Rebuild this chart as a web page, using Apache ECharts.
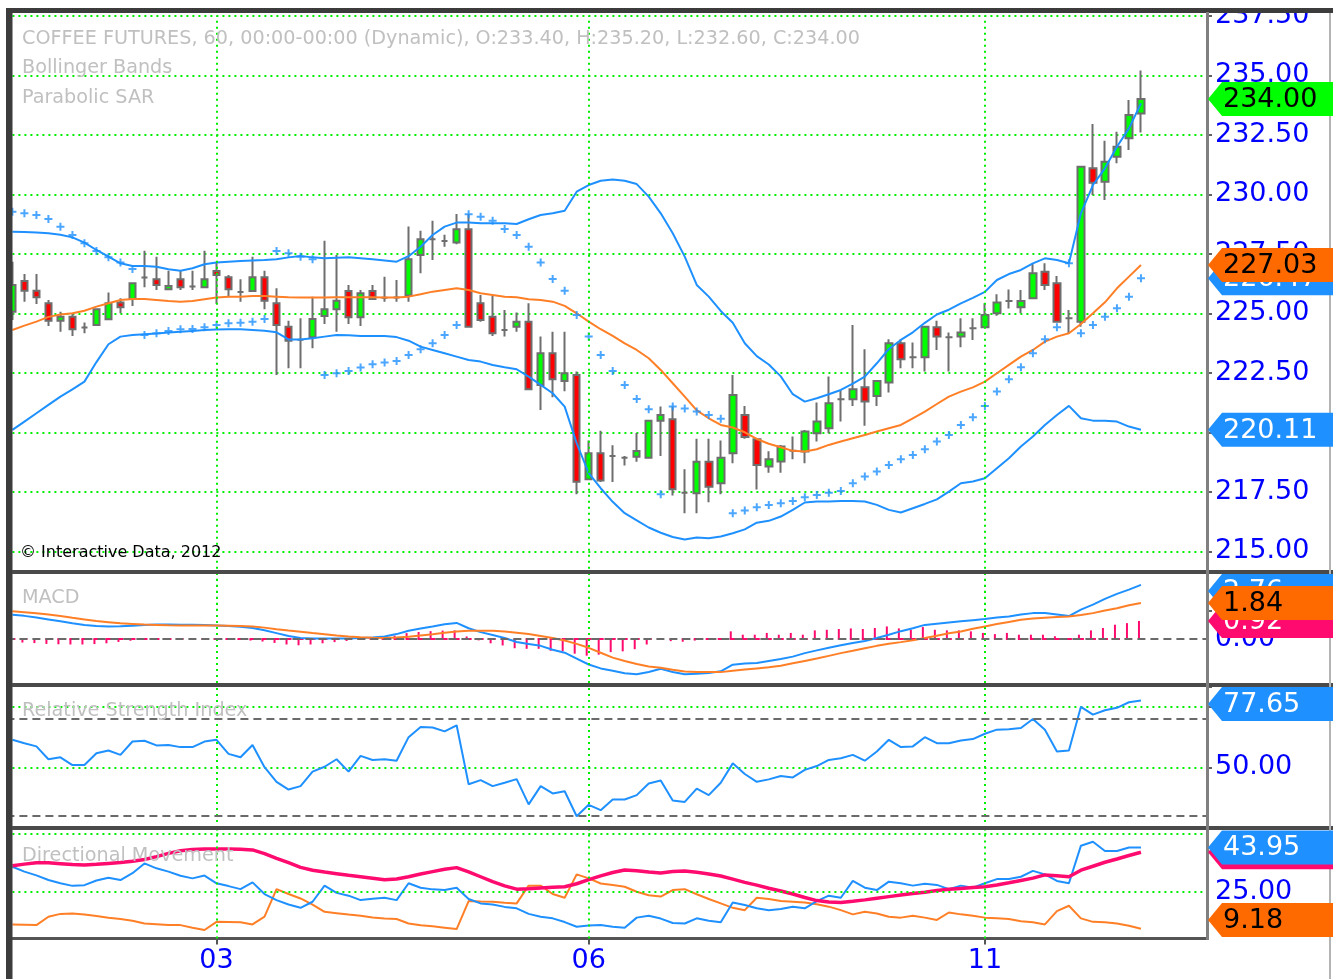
<!DOCTYPE html>
<html><head><meta charset="utf-8">
<script src="https://cdn.jsdelivr.net/npm/echarts@6/dist/echarts.min.js"></script>
<style>html,body{margin:0;padding:0;background:#fff}#c{width:1333px;height:979px}</style>
</head><body><div id="c"></div>
<script>
// ---------- DATA ----------
const barCount = 100; // slots on the time axis (95 bars + empty space on the right)
const categories = Array.from({length: barCount}, (_, i) => String(i));
const xTickIdx = [17, 48, 81];
const xTickLabels = ['03', '06', '11'];

const opens = [225.07,226.36,225.95,225.42,224.69,224.86,224.40,224.51,224.75,225.45,
225.60,226.50,226.43,226.01,226.43,226.13,226.09,226.78,226.51,225.90,
225.94,226.51,225.42,224.44,223.89,223.99,224.89,225.17,225.94,224.83,
225.94,225.65,225.66,225.75,227.45,228.11,228.04,227.97,228.53,225.42,
224.86,224.30,224.44,224.65,221.99,223.32,222.16,222.41,218.03,219.12,
219.00,218.93,218.97,218.93,220.49,220.55,217.46,217.44,218.76,217.86,
219.12,220.73,219.71,218.56,218.77,219.22,219.19,219.96,220.17,221.39,
221.39,221.89,221.53,222.09,223.74,223.15,223.15,224.41,223.99,224.02,
224.37,224.41,225.00,225.52,225.25,225.63,226.75,226.26,224.79,224.65,
231.09,230.53,231.58,232.35,233.40];
const closes = [226.19,225.95,225.67,224.69,224.86,224.33,224.40,225.17,225.42,225.25,
226.26,226.50,226.19,226.15,226.09,226.13,226.43,226.61,226.01,225.90,
226.51,225.53,224.51,223.85,223.89,224.76,225.17,225.53,224.83,225.84,
225.60,225.65,225.66,227.27,228.11,228.11,228.04,228.53,224.44,224.72,
224.16,224.30,224.65,221.81,223.32,222.23,222.48,217.92,219.12,217.97,
219.00,218.93,219.21,220.49,220.73,217.61,217.46,218.76,217.71,218.93,
221.57,219.80,218.63,218.87,219.40,219.22,220.03,220.45,221.22,221.39,
221.81,221.29,222.16,223.74,223.07,223.15,224.44,224.02,223.99,224.19,
224.37,224.93,225.45,225.52,225.52,226.68,226.19,224.65,224.79,231.16,
230.49,231.37,232.00,233.33,234.00];
const lows = [224.72,225.49,225.39,224.47,224.23,224.05,224.16,224.47,224.75,225.00,
225.31,226.09,225.98,225.98,225.98,225.98,226.09,225.39,225.67,225.49,
225.94,225.17,222.41,222.69,222.69,223.53,224.55,224.23,224.55,224.47,
225.56,225.49,225.49,225.49,226.68,227.24,227.80,227.90,224.44,224.65,
224.05,224.02,224.23,221.81,220.94,221.47,221.72,217.40,218.03,217.91,
217.91,218.60,218.76,218.93,219.00,217.34,216.60,216.60,217.06,217.40,
218.70,219.73,217.60,218.30,218.30,218.87,218.70,219.61,219.96,220.45,
221.11,220.27,221.11,221.67,222.69,222.69,222.55,223.46,222.55,223.57,
223.88,224.41,224.90,225.20,225.00,225.63,225.98,224.65,224.16,224.44,
229.97,229.76,231.30,231.86,232.60];
const highs = [227.17,226.65,226.65,225.56,225.07,225.00,224.61,225.17,225.87,225.63,
226.26,227.63,227.38,226.79,226.79,226.79,227.63,227.17,226.61,226.43,
227.38,226.79,226.05,224.69,224.79,225.70,228.05,227.45,226.19,225.98,
226.19,226.54,226.40,228.65,228.47,228.89,228.30,229.17,229.17,225.77,
225.77,225.14,225.03,225.42,224.02,224.23,224.23,222.55,219.66,220.07,
219.46,219.00,219.97,220.49,221.08,221.08,218.45,219.73,219.73,219.66,
222.41,221.10,219.71,219.20,219.47,219.82,220.10,221.25,222.34,221.78,
224.51,223.49,222.20,223.91,223.91,223.77,224.44,224.69,224.19,224.79,
224.79,225.42,225.80,226.00,225.98,227.10,227.10,226.57,225.14,231.16,
232.95,232.25,232.63,233.96,235.20];

const bbUpper = [228.43,228.42,228.40,228.36,228.30,228.19,227.97,227.66,227.38,227.10,
226.99,226.99,226.96,226.85,226.79,226.89,227.06,227.13,227.17,227.20,
227.22,227.24,227.27,227.35,227.41,227.35,227.31,227.33,227.35,227.31,
227.27,227.22,227.17,227.40,227.80,228.29,228.64,228.81,228.81,228.78,
228.78,228.78,228.75,228.95,229.13,229.20,229.31,230.11,230.39,230.57,
230.62,230.57,230.43,229.90,229.20,228.36,227.38,226.19,225.70,225.10,
224.60,223.74,223.20,222.85,222.35,221.60,221.29,221.43,221.60,221.78,
222.05,222.34,222.90,223.50,223.88,224.20,224.60,224.95,225.15,225.42,
225.65,225.90,226.40,226.65,226.82,227.10,227.31,227.24,227.10,229.20,
230.39,231.09,232.00,232.77,233.82];
const bbMiddle = [224.30,224.48,224.65,224.85,224.95,225.00,225.11,225.28,225.42,225.56,
225.60,225.60,225.56,225.52,225.49,225.52,225.59,225.66,225.70,225.70,
225.73,225.73,225.70,225.67,225.66,225.66,225.66,225.67,225.67,225.67,
225.67,225.66,225.66,225.70,225.80,225.91,225.98,226.05,225.98,225.84,
225.77,225.70,225.67,225.59,225.56,225.49,225.31,225.00,224.65,224.33,
224.05,223.74,223.46,223.11,222.62,222.06,221.50,220.92,220.59,220.31,
220.20,220.00,219.72,219.52,219.37,219.22,219.19,219.29,219.47,219.61,
219.75,219.89,220.03,220.17,220.31,220.59,220.87,221.19,221.50,221.71,
221.89,222.13,222.48,222.83,223.18,223.46,223.81,224.02,224.16,224.55,
225.00,225.46,226.05,226.54,227.03];
const bbLower = [220.10,220.45,220.80,221.15,221.50,221.80,222.13,222.95,223.70,224.02,
224.09,224.12,224.15,224.19,224.22,224.26,224.30,224.32,224.33,224.33,
224.30,224.27,224.20,223.90,223.90,223.95,224.02,224.09,224.08,224.05,
224.05,224.05,224.00,223.85,223.60,223.46,223.32,223.18,223.04,222.97,
222.83,222.73,222.65,222.34,221.99,221.64,221.08,219.54,218.28,217.65,
217.08,216.60,216.30,216.00,215.78,215.60,215.50,215.58,215.55,215.62,
215.76,215.92,216.20,216.28,216.46,216.74,217.05,217.09,217.09,217.11,
217.11,217.09,216.95,216.74,216.63,216.81,216.99,217.18,217.51,217.86,
217.93,218.07,218.49,218.91,219.40,219.82,220.31,220.73,221.11,220.59,
220.49,220.49,220.45,220.24,220.11];
const sar = [229.27,229.20,229.13,228.96,228.64,228.29,227.94,227.62,227.35,227.13,
226.86,224.09,224.16,224.26,224.33,224.34,224.41,224.51,224.58,224.60,
224.65,224.76,227.62,227.52,227.38,227.27,222.41,222.48,222.58,222.72,
222.86,222.93,223.00,223.25,223.49,223.74,224.09,224.51,229.16,229.06,
228.89,228.54,228.29,227.80,227.13,226.44,225.95,224.93,224.02,223.25,
222.58,221.99,221.40,220.97,217.40,221.08,221.00,220.87,220.73,220.57,
216.60,216.71,216.85,216.95,217.02,217.11,217.27,217.37,217.46,217.53,
217.86,218.14,218.35,218.63,218.87,219.05,219.29,219.61,219.89,220.31,
220.63,221.11,221.71,222.23,222.73,223.32,223.91,224.41,227.10,224.16,
224.51,224.86,225.21,225.70,226.47];

const macd = [1.24,1.18,1.10,1.00,0.90,0.80,0.72,0.66,0.64,0.65,
0.68,0.72,0.74,0.74,0.73,0.73,0.71,0.69,0.66,0.62,
0.56,0.45,0.30,0.15,0.05,0.02,0.02,0.02,0.03,0.05,
0.08,0.13,0.25,0.42,0.54,0.64,0.75,0.82,0.55,0.35,
0.20,0.05,-0.15,-0.25,-0.35,-0.55,-0.70,-1.00,-1.30,-1.50,
-1.62,-1.75,-1.80,-1.68,-1.52,-1.68,-1.80,-1.77,-1.73,-1.65,
-1.31,-1.25,-1.22,-1.12,-1.02,-0.90,-0.72,-0.58,-0.45,-0.32,
-0.20,-0.10,0.05,0.22,0.40,0.55,0.72,0.78,0.84,0.90,
0.96,1.02,1.10,1.15,1.25,1.32,1.33,1.25,1.17,1.50,
1.75,2.05,2.30,2.52,2.76];
const macdSignal = [1.41,1.36,1.31,1.25,1.17,1.08,1.00,0.92,0.86,0.80,
0.77,0.74,0.72,0.70,0.69,0.69,0.69,0.69,0.68,0.66,
0.64,0.58,0.50,0.43,0.37,0.30,0.24,0.18,0.13,0.09,
0.06,0.05,0.08,0.12,0.18,0.24,0.32,0.38,0.42,0.42,
0.42,0.38,0.32,0.25,0.15,0.05,-0.08,-0.25,-0.45,-0.70,
-0.95,-1.12,-1.28,-1.40,-1.47,-1.57,-1.66,-1.69,-1.69,-1.69,
-1.62,-1.56,-1.50,-1.44,-1.36,-1.24,-1.12,-1.00,-0.86,-0.72,
-0.60,-0.47,-0.35,-0.24,-0.16,-0.06,0.05,0.17,0.29,0.38,
0.52,0.64,0.76,0.87,0.98,1.04,1.08,1.12,1.15,1.22,
1.32,1.45,1.57,1.72,1.84];
const macdHist = [-0.17,-0.18,-0.21,-0.25,-0.27,-0.28,-0.28,-0.26,-0.22,-0.15,
-0.09,-0.02,0.02,0.04,0.04,0.04,0.02,0.00,-0.02,-0.04,
-0.08,-0.13,-0.20,-0.28,-0.32,-0.28,-0.22,-0.16,-0.10,-0.04,
0.02,0.08,0.17,0.30,0.36,0.40,0.43,0.44,0.13,-0.07,
-0.22,-0.33,-0.47,-0.50,-0.50,-0.60,-0.62,-0.75,-0.85,-0.80,
-0.67,-0.63,-0.52,-0.28,-0.05,-0.11,-0.14,-0.08,-0.04,0.04,
0.39,0.22,0.22,0.31,0.22,0.31,0.22,0.44,0.47,0.51,
0.54,0.51,0.56,0.64,0.54,0.47,0.61,0.47,0.44,0.44,
0.39,0.31,0.25,0.31,0.22,0.22,0.22,0.14,0.05,0.22,
0.44,0.56,0.73,0.81,0.92];

const rsi = [61.4,60.0,58.7,53.4,54.2,51.0,51.0,55.9,57.0,55.2,
60.7,61.0,59.1,59.3,58.4,58.4,60.7,61.4,55.6,54.2,
59.3,50.1,44.1,40.9,42.3,48.3,50.3,53.4,48.3,54.8,
53.1,53.4,52.8,62.5,66.7,66.5,64.9,67.4,43.1,44.8,
42.3,43.7,45.2,34.8,42.3,39.3,40.2,29.9,34.6,32.4,
36.8,36.8,38.6,43.4,44.6,36.4,35.8,41.3,38.6,43.7,
51.7,47.3,44.1,45.1,46.5,45.9,49.0,50.6,53.1,53.8,
55.2,52.8,56.6,61.4,58.4,58.7,62.5,60.0,60.0,61.1,
61.7,63.9,65.6,65.8,66.3,70.0,65.6,56.6,57.0,75.0,
71.8,73.6,74.6,76.9,77.65];

const adx = [36.1,36.8,37.4,37.4,37.0,36.6,36.4,36.7,37.1,37.5,
38.0,38.8,40.0,41.4,42.5,43.1,43.3,43.3,43.3,43.2,
42.9,41.3,39.3,37.4,35.4,34.2,33.4,32.7,32.0,31.4,
30.8,30.1,30.4,31.4,32.6,33.6,34.6,35.3,33.5,31.4,
29.3,27.5,26.1,26.3,26.6,26.9,27.1,28.4,30.2,31.8,
33.2,34.3,34.0,33.4,33.0,33.6,33.9,33.3,32.6,31.7,
30.4,29.0,27.8,26.5,25.3,24.0,22.5,21.2,20.6,20.4,
20.9,21.5,22.2,22.9,23.6,24.2,24.8,25.5,26.0,26.4,
26.8,27.1,27.9,28.8,29.8,30.8,32.2,31.8,31.4,34.2,
35.9,37.6,39.0,40.5,41.9];
const plusDI = [35.7,33.6,32.0,30.0,28.6,27.5,27.8,29.8,31.0,30.0,
32.9,37.1,35.0,33.6,31.8,30.7,31.9,28.6,27.4,26.1,
29.0,24.0,21.4,19.5,18.1,20.7,27.6,24.5,23.3,21.4,
22.0,22.4,21.4,28.6,26.7,26.0,25.7,26.7,21.9,20.0,
19.5,18.5,17.9,15.5,14.3,13.6,12.0,10.0,10.5,10.7,
10.0,9.6,13.9,14.7,13.5,11.6,11.4,13.6,12.6,11.9,
20.4,19.3,17.9,17.1,17.6,18.6,17.9,21.0,23.3,22.4,
29.6,26.7,25.7,29.3,28.6,27.6,28.4,27.9,26.1,27.6,
26.7,28.6,30.4,30.4,31.4,33.9,32.4,29.6,28.6,44.7,
46.4,42.4,42.4,43.9,43.95];
const minusDI = [11.0,10.9,10.7,14.3,15.5,15.7,15.2,14.6,13.9,13.3,
12.6,11.4,11.1,10.8,10.7,9.6,8.6,12.1,12.0,11.9,
11.0,14.3,26.1,24.0,22.1,19.5,16.4,15.8,15.2,14.7,
14.0,13.5,13.3,11.4,10.6,10.2,9.6,9.0,21.0,20.8,
20.7,20.3,20.0,27.6,27.6,24.0,22.4,32.4,30.7,28.5,
27.9,27.1,25.0,23.5,22.9,25.7,26.1,23.9,21.9,20.0,
18.1,17.1,22.4,21.9,21.0,20.7,20.4,19.6,18.6,17.1,
15.3,16.4,15.7,14.3,13.9,14.7,13.9,12.9,16.1,15.3,
14.7,13.9,13.6,13.3,12.4,11.9,11.0,16.7,19.0,13.6,
12.1,11.9,11.4,10.4,9.18];

const priceTickStep = 2.5;
const rsiLevels = [70, 30];
const dmiGridLevels = [25, 50];
const dmiLabelLevels = [25];

// ---------- STYLE ----------
const FONT = 'DejaVu Sans';
const BLUE = '#1e90ff', ORANGE = '#ff7f27', PINK = '#ff0a6e';
const TAG_ORANGE = '#ff6a00', TAG_GREEN = '#00ff00';
const AXIS_BLUE = '#0000ff', GRID_GREEN = '#00ee00';
const PLOT_LEFT = 6.4, PLOT_W = 1200.6;
const panels = [
  {top: 15.8, height: 595, min: 212.5, max: 237.5, clipTop: 12, clipBottom: 570},
  {top: 574, height: 109, min: -2.245, max: 3.316, clipTop: 574, clipBottom: 683},
  {top: 687, height: 141.1, min: 25, max: 83.19, clipTop: 687, clipBottom: 826},
  {top: 830, height: 108.5, min: 4.97, max: 51.41, clipTop: 830, clipBottom: 937}
];
const dotted = {color: GRID_GREEN, width: 2, type: [2, 4]};
const dashed = {color: '#6a6a6a', width: 2, type: [8, 5]};
const vGrid = xTickIdx.map(i => ({xAxis: categories[i]}));

const grids = panels.map(p => ({left: PLOT_LEFT, width: PLOT_W, top: p.top, height: p.height}));
const xAxes = panels.map((p, k) => ({
  type: 'category', gridIndex: k, data: categories, boundaryGap: true,
  show: k === 3,
  axisLine: {show: k === 3, lineStyle: {color: '#555', width: 3}},
  axisTick: {show: k === 3, alignWithLabel: true, length: 6,
    interval: (i) => xTickIdx.indexOf(i) >= 0, lineStyle: {color: '#555', width: 2}},
  axisLabel: {show: k === 3, interval: (i) => xTickIdx.indexOf(i) >= 0,
    formatter: (v, i) => { const j = xTickIdx.indexOf(i); return j >= 0 ? xTickLabels[j] : ''; },
    color: AXIS_BLUE, fontSize: 27, fontFamily: FONT, margin: 9},
  splitLine: {show: false}
}));
const labelStyle = {color: AXIS_BLUE, fontSize: 27, fontFamily: FONT, margin: 8};
const yAxes = [
  {type: 'value', gridIndex: 0, position: 'right', min: panels[0].min, max: panels[0].max, interval: priceTickStep,
   axisLine: {show: false}, axisTick: {show: true, length: 5, lineStyle: {color: '#606060', width: 2}},
   axisLabel: Object.assign({formatter: v => v >= 215 ? v.toFixed(2) : ''}, labelStyle),
   splitLine: {show: true, showMinLine: false, lineStyle: dotted}},
  {type: 'value', gridIndex: 1, position: 'right', min: panels[1].min, max: panels[1].max,
   axisLine: {show: false}, axisTick: {show: false},
   axisLabel: Object.assign({formatter: v => Math.abs(v) < 1e-9 ? '0.00' : ''}, labelStyle),
   splitLine: {show: false}},
  {type: 'value', gridIndex: 2, position: 'right', min: panels[2].min, max: panels[2].max, interval: 25,
   axisLine: {show: false}, axisTick: {show: true, length: 5, lineStyle: {color: '#606060', width: 2}},
   axisLabel: Object.assign({formatter: v => (v === 50 || v === 75) ? v.toFixed(2) : ''}, labelStyle),
   splitLine: {show: true, showMinLine: false, showMaxLine: false, lineStyle: dotted}},
  {type: 'value', gridIndex: 3, position: 'right', min: panels[3].min, max: panels[3].max,
   axisLine: {show: false}, axisTick: {show: false}, axisLabel: {show: false}, splitLine: {show: false}}
];

function gridHelper(k, extra) {
  return {type: 'line', xAxisIndex: k, yAxisIndex: k, data: [], z: 1, silent: true,
    markLine: {silent: true, symbol: 'none', animation: false, label: {show: false},
      lineStyle: dotted, data: vGrid.concat(extra || [])}};
}
const plus = 'path://M3,0H5V3H8V5H5V8H3V5H0V3H3Z';
const line = (k, data, color, width, z) => ({type: 'line', xAxisIndex: k, yAxisIndex: k, data,
  showSymbol: false, symbol: 'none', lineStyle: {color, width}, itemStyle: {color}, z: z || 3, silent: true});

const series = [
  gridHelper(0), gridHelper(1), gridHelper(2),
  gridHelper(3, dmiGridLevels.map(v => ({yAxis: v, label: {show: dmiLabelLevels.indexOf(v) >= 0, position: 'end', distance: 8,
    formatter: p => Number(p.value).toFixed(2), color: AXIS_BLUE, fontSize: 27, fontFamily: FONT}}))),
  {type: 'candlestick', xAxisIndex: 0, yAxisIndex: 0, barWidth: 7, z: 2,
   data: opens.map((o, i) => [o, closes[i], lows[i], highs[i]]),
   itemStyle: {color: '#00ff00', color0: '#ff0000', borderColor: '#6e6e6e', borderColor0: '#6e6e6e',
     borderColorDoji: '#6e6e6e', borderWidth: 2}},
  line(0, bbUpper, BLUE, 2), line(0, bbMiddle, ORANGE, 2), line(0, bbLower, BLUE, 2),
  {type: 'scatter', xAxisIndex: 0, yAxisIndex: 0, data: sar, symbol: plus, symbolSize: 8,
   itemStyle: {color: BLUE}, z: 4, silent: true},
  // MACD
  {type: 'line', xAxisIndex: 1, yAxisIndex: 1, data: [], z: 1,
   markLine: {silent: true, symbol: 'none', label: {show: false}, lineStyle: dashed, data: [{yAxis: 0}]}},
  {type: 'custom', xAxisIndex: 1, yAxisIndex: 1, z: 2, silent: true,
   data: macdHist.map((v, i) => [i, v]),
   renderItem: (params, api) => {
     const b = api.coord([api.value(0), 0]);
     const t = api.coord([api.value(0), api.value(1)]);
     const st = {stroke: PINK, lineWidth: 2};
     return {type: 'group', children: [
       {type: 'line', shape: {x1: b[0] - 2, y1: b[1], x2: b[0] - 2, y2: t[1]}, style: st},
       {type: 'line', shape: {x1: b[0] - 3, y1: b[1], x2: b[0] + 3, y2: b[1]}, style: st}]};
   }},
  line(1, macd, BLUE, 2), line(1, macdSignal, ORANGE, 2),
  // RSI
  {type: 'line', xAxisIndex: 2, yAxisIndex: 2, data: [], z: 1,
   markLine: {silent: true, symbol: 'none', label: {show: false}, lineStyle: dashed,
     data: rsiLevels.map(v => ({yAxis: v}))}},
  line(2, rsi, BLUE, 2),
  // DMI
  line(3, minusDI, ORANGE, 2), line(3, plusDI, BLUE, 2), line(3, adx, PINK, 3.5, 4)
];

const chart = echarts.init(document.getElementById('c'), null, {renderer: 'canvas'});
chart.setOption({animation: false, backgroundColor: '#fff', grid: grids, xAxis: xAxes, yAxis: yAxes, series});

// ---------- frame, legends and value tags ----------
const g = [];
const rect = (x, y, w, h, fill, z) => g.push({type: 'rect', shape: {x, y, width: w, height: h}, style: {fill}, z: z || 90, silent: true});
const txt = (x, y, text, font, fill, z) => g.push({type: 'text', x, y, style: {text, font, fill, verticalAlign: 'middle'}, z: z || 95, silent: true});
rect(0, 0, 1333, 8, '#fff');
rect(0, 0, 6, 979, '#fff');
rect(6, 8, 1327, 5, '#3c3c3c');
rect(6, 8, 6.5, 971, '#3c3c3c');
rect(12, 570, 1321, 4, '#4a4a4a');
rect(12, 683, 1321, 4, '#4a4a4a');
rect(12, 826, 1321, 4, '#4a4a4a');
rect(1206, 12, 3, 928, '#808080');
rect(1329, 13, 2, 966, '#b4b4b4');

const LEG = '19.2px ' + FONT, LEGC = '#c0c0c0';
txt(22, 39, 'COFFEE FUTURES, 60, 00:00-00:00 (Dynamic), O:' + opens[94].toFixed(2) + ', H:' + highs[94].toFixed(2) + ', L:' + lows[94].toFixed(2) + ', C:' + closes[94].toFixed(2), LEG, LEGC);
txt(22, 68, 'Bollinger Bands', LEG, LEGC);
txt(22, 98, 'Parabolic SAR', LEG, LEGC);
txt(20, 553, '\u00A9 Interactive Data, 2012', '16px ' + FONT, '#000');
txt(22, 598, 'MACD', LEG, LEGC);
txt(22, 711, 'Relative Strength Index', LEG, LEGC);
txt(22, 856, 'Directional Movement', LEG, LEGC);

let tz = 100;
function tag(k, value, fill, color) {
  const p = panels[k];
  let cy = chart.convertToPixel({yAxisIndex: k}, value);
  cy = Math.max(p.clipTop + 17, Math.min(p.clipBottom - 17, cy));
  g.push({type: 'polygon', shape: {points: [[1208, cy], [1222, cy - 17], [1333, cy - 17], [1333, cy + 17], [1222, cy + 17]]},
    style: {fill}, z: tz++, silent: true});
  g.push({type: 'text', x: 1223, y: cy + 1, style: {text: value.toFixed(2), font: '27px ' + FONT, fill: color, verticalAlign: 'middle'}, z: tz++, silent: true});
}
const last = a => a[a.length - 1];
tag(0, last(sar), BLUE, '#fff');
tag(0, last(bbMiddle), TAG_ORANGE, '#000');
tag(0, last(bbLower), BLUE, '#fff');
tag(0, last(closes), TAG_GREEN, '#000');
tag(1, last(macd), BLUE, '#fff');
tag(1, last(macdHist), PINK, '#fff');
tag(1, last(macdSignal), TAG_ORANGE, '#000');
tag(2, last(rsi), BLUE, '#fff');
tag(3, last(adx), PINK, '#fff');
tag(3, last(plusDI), BLUE, '#fff');
tag(3, last(minusDI), TAG_ORANGE, '#000');
chart.setOption({graphic: g});
</script></body></html>
